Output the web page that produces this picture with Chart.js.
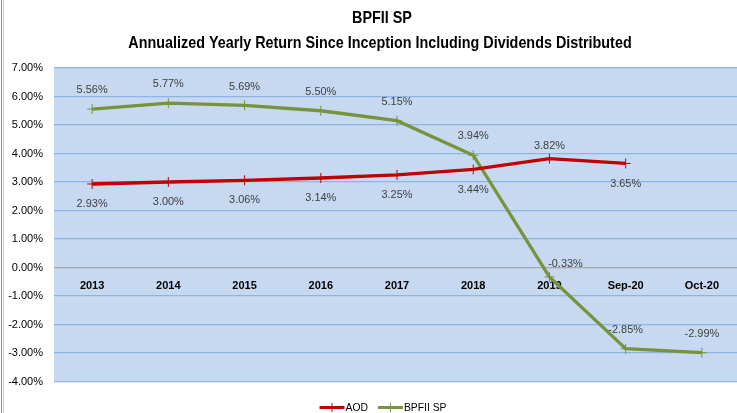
<!DOCTYPE html>
<html>
<head>
<meta charset="utf-8">
<script src="https://cdn.jsdelivr.net/npm/chart.js@4.4.1/dist/chart.umd.min.js"></script>
<style>
  html, body { margin: 0; padding: 0; background: #ffffff; overflow: hidden; width: 737px; height: 413px; }
  #wrap { position: relative; width: 746px; height: 413px; }
</style>
</head>
<body>
<div id="wrap"><canvas id="c" width="746" height="413"></canvas></div>
<script>
const categories = ['2013', '2014', '2015', '2016', '2017', '2018', '2019', 'Sep-20', 'Oct-20'];
const aodValues = [2.93, 3.00, 3.06, 3.14, 3.25, 3.44, 3.82, 3.65, null];
const bpfiiValues = [5.56, 5.77, 5.69, 5.50, 5.15, 3.94, -0.33, -2.85, -2.99];
const yTicks = [7, 6, 5, 4, 3, 2, 1, 0, -1, -2, -3, -4];
const titleLines = ['BPFII SP', 'Annualized Yearly Return Since Inception Including Dividends Distributed'];

// label placement styles (not data)
const aodLabelPlace = ['below', 'below', 'below', 'below', 'below', 'below', 'above', 'below', 'below'];
const bpfiiLabelPlace = ['above', 'above', 'above', 'above', 'above', 'above', 'aboveRight', 'above', 'above'];

const FONT = '"Liberation Sans", Arial, sans-serif';
const RED = '#c00000';
const GREEN = '#77933c';

function drawSqueezed(ctx, text, cx, cy, sx) {
  ctx.save();
  ctx.translate(cx, cy);
  ctx.scale(sx, 1);
  ctx.fillText(text, 0, 0);
  ctx.restore();
}

const decoPlugin = {
  id: 'deco',
  beforeDraw(chart) {
    const { ctx, chartArea: a } = chart;
    ctx.save();
    ctx.fillStyle = '#c6d9f1';
    ctx.fillRect(a.left, a.top, a.right - a.left, a.bottom - a.top);
    ctx.restore();
  },
  afterDraw(chart) {
    const ctx = chart.ctx;
    ctx.save();
    // titles
    ctx.fillStyle = '#000000';
    ctx.textAlign = 'center';
    ctx.textBaseline = 'middle';
    ctx.font = 'bold 16.5px ' + FONT;
    drawSqueezed(ctx, titleLines[0], 382, 18, 0.87);
    drawSqueezed(ctx, titleLines[1], 380, 43, 0.87);

    // legend
    const sx = 0.9;
    ctx.font = '11.5px ' + FONT;
    ctx.textAlign = 'left';
    const items = chart.data.datasets.map(ds => ({ text: ds.label, color: ds.borderColor }));
    const iconW = 25, gap = 10;
    const widths = items.map(it => iconW + 1 + ctx.measureText(it.text).width * sx);
    const total = widths.reduce((s, w) => s + w, 0) + gap * (items.length - 1);
    let x = 383 - total / 2;
    const y = 407.5;
    items.forEach((it, i) => {
      ctx.strokeStyle = it.color;
      ctx.lineWidth = 3;
      ctx.beginPath(); ctx.moveTo(x, y); ctx.lineTo(x + iconW, y); ctx.stroke();
      ctx.lineWidth = 1;
      ctx.beginPath();
      ctx.moveTo(x + iconW / 2, y - 4.5); ctx.lineTo(x + iconW / 2, y + 4.5);
      ctx.stroke();
      ctx.fillStyle = '#000000';
      ctx.save();
      ctx.translate(x + iconW + 1, y);
      ctx.scale(sx, 1);
      ctx.fillText(it.text, 0, 0);
      ctx.restore();
      x += widths[i] + gap;
    });

    // window frame at left
    ctx.fillStyle = '#8c8c8c';
    ctx.fillRect(1, 0, 1, 413);
    ctx.fillStyle = '#c8c8c8';
    ctx.fillRect(3, 0, 1, 413);
    ctx.restore();
  }
};

const labelPlugin = {
  id: 'pointLabels',
  afterDatasetsDraw(chart) {
    const ctx = chart.ctx;
    ctx.save();
    ctx.font = '11.5px ' + FONT;
    ctx.fillStyle = '#404040';
    ctx.textAlign = 'center';
    ctx.textBaseline = 'middle';
    chart.data.datasets.forEach((ds, di) => {
      const meta = chart.getDatasetMeta(di);
      const places = di === 0 ? aodLabelPlace : bpfiiLabelPlace;
      meta.data.forEach((pt, i) => {
        const v = ds.data[i];
        if (v === null || v === undefined) return;
        let dx = 0, dy = 0;
        const p = places[i];
        if (p === 'below') dy = 20;
        else if (p === 'above') dy = di === 0 ? -13 : -19;
        else if (p === 'aboveRight') { dx = 16; dy = -13; }
        drawSqueezed(ctx, v.toFixed(2) + '%', pt.x + dx, pt.y + dy, 0.95);
      });
    });
    ctx.restore();
  }
};

new Chart(document.getElementById('c'), {
  type: 'line',
  data: {
    labels: categories,
    datasets: [
      {
        label: 'AOD',
        data: aodValues,
        borderColor: RED,
        backgroundColor: RED,
        borderWidth: 3.3,
        pointStyle: 'cross',
        pointRadius: 5,
        pointBorderWidth: 1,
        pointBorderColor: RED,
        tension: 0,
        spanGaps: false
      },
      {
        label: 'BPFII SP',
        data: bpfiiValues,
        borderColor: GREEN,
        backgroundColor: GREEN,
        borderWidth: 3.3,
        pointStyle: 'cross',
        pointRadius: 5,
        pointBorderWidth: 1,
        pointBorderColor: GREEN,
        tension: 0
      }
    ]
  },
  options: {
    responsive: false,
    animation: false,
    devicePixelRatio: 1,
    layout: { padding: { top: 68, left: 0, right: 0, bottom: 31.5 } },
    scales: {
      x: {
        type: 'category',
        position: { y: 0 },
        offset: true,
        grid: { display: false, drawTicks: false },
        border: { display: false },
        ticks: {
          color: '#000000',
          font: { family: FONT, size: 11, weight: 'bold' },
          padding: 12,
          maxRotation: 0,
          autoSkip: false
        }
      },
      y: {
        min: -4,
        max: 7,
        afterFit(scale) { scale.width = 54; },
        afterBuildTicks(scale) { scale.ticks = yTicks.map(v => ({ value: v })); },
        grid: {
          drawTicks: false,
          color: (c) => (c.tick && c.tick.value === 0) ? '#a6a6a6' : '#8eb4e3',
          lineWidth: 1.3
        },
        border: { display: false },
        ticks: {
          color: '#000000',
          font: { family: FONT, size: 11 },
          padding: 11,
          callback: (v) => Number(v).toFixed(2) + '%'
        }
      }
    },
    plugins: {
      title: { display: false },
      tooltip: { enabled: false },
      legend: { display: false }
    }
  },
  plugins: [decoPlugin, labelPlugin]
});
</script>
</body>
</html>
